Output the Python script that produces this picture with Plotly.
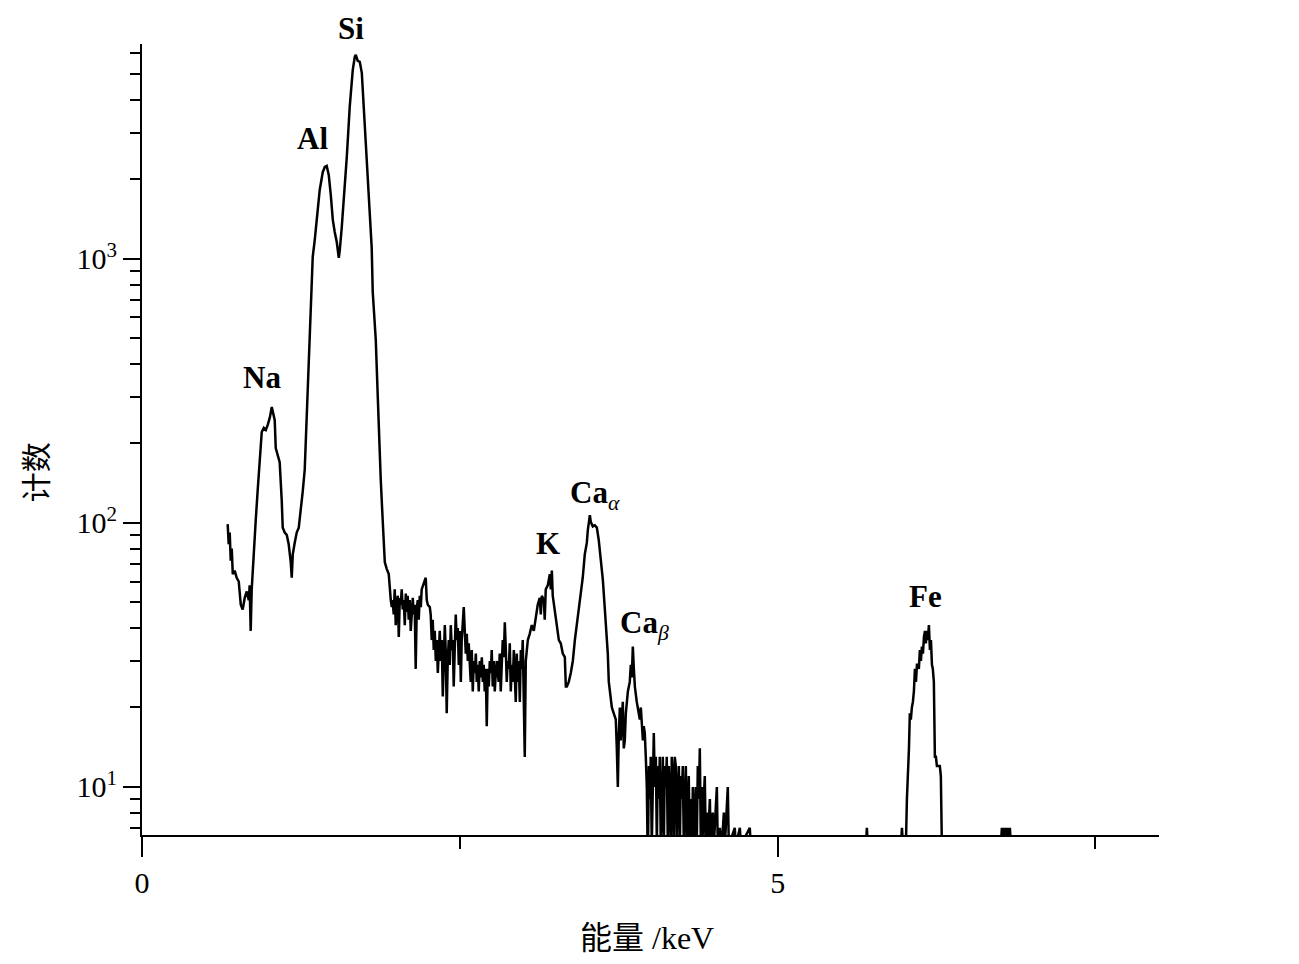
import plotly.graph_objects as go

SERIF = "Liberation Serif, Times New Roman, serif"
TITLE_FONT = "Liberation Serif, Noto Sans CJK SC, serif"

# EDS spectrum: energy (keV) and counts
ENERGY_KEV = [
    # Na / Al / Si region
    0.674, 0.682, 0.690, 0.698, 0.706, 0.714, 0.729, 0.745, 0.761, 0.777,
    0.792, 0.808, 0.824, 0.840, 0.847, 0.855, 0.863, 0.879, 0.895, 0.910,
    0.926, 0.942, 0.958, 0.974, 0.989, 1.005, 1.021, 1.028, 1.044, 1.052,
    1.068, 1.083, 1.099, 1.107, 1.123, 1.139, 1.154, 1.170, 1.178, 1.186,
    1.201, 1.217, 1.233, 1.249, 1.264, 1.280, 1.288, 1.296, 1.304, 1.320,
    1.327, 1.343, 1.359, 1.375, 1.398, 1.422, 1.438, 1.453, 1.469, 1.485,
    1.501, 1.516, 1.532, 1.548, 1.556, 1.571, 1.587, 1.611, 1.634, 1.658,
    1.674, 1.682, 1.697, 1.713, 1.729, 1.752, 1.776, 1.792, 1.807, 1.815,
    1.839, 1.855, 1.862, 1.870, 1.878, 1.894, 1.910, 1.925, 1.941, 1.957,
    1.965,
    # background, K and Ca
    1.972, 1.980, 1.988, 1.996, 2.004, 2.012, 2.020, 2.028, 2.035, 2.043,
    2.051, 2.059, 2.067, 2.075, 2.082, 2.090, 2.098, 2.106, 2.114, 2.122,
    2.130, 2.137, 2.145, 2.153, 2.161, 2.169, 2.177, 2.185, 2.193, 2.200,
    2.216, 2.232, 2.240, 2.248, 2.264, 2.271, 2.279, 2.287, 2.295, 2.303,
    2.311, 2.319, 2.327, 2.334, 2.342, 2.350, 2.358, 2.366, 2.374, 2.382,
    2.389, 2.397, 2.405, 2.413, 2.421, 2.429, 2.437, 2.445, 2.452, 2.460,
    2.468, 2.476, 2.484, 2.492, 2.500, 2.508, 2.515, 2.531, 2.539, 2.547,
    2.555, 2.563, 2.570, 2.578, 2.586, 2.594, 2.602, 2.610, 2.618, 2.626,
    2.633, 2.641, 2.649, 2.657, 2.665, 2.673, 2.681, 2.688, 2.696, 2.704,
    2.712, 2.720, 2.728, 2.736, 2.744, 2.751, 2.759, 2.767, 2.775, 2.783,
    2.791, 2.799, 2.806, 2.814, 2.822, 2.830, 2.838, 2.846, 2.854, 2.862,
    2.869, 2.877, 2.885, 2.893, 2.901, 2.909, 2.917, 2.925, 2.932, 2.940,
    2.948, 2.956, 2.964, 2.972, 2.980, 2.987, 2.995, 3.003, 3.011, 3.019,
    3.027, 3.035, 3.050, 3.066, 3.082, 3.098, 3.113, 3.129, 3.137, 3.145,
    3.161, 3.168, 3.176, 3.192, 3.208, 3.216, 3.224, 3.231, 3.247, 3.263,
    3.279, 3.294, 3.310, 3.326, 3.334, 3.342, 3.357, 3.373, 3.389, 3.405,
    3.420, 3.436, 3.452, 3.467, 3.483, 3.499, 3.507, 3.515, 3.523, 3.530,
    3.546, 3.562, 3.578, 3.593, 3.609, 3.625, 3.641, 3.656, 3.664, 3.672,
    3.680, 3.696, 3.711, 3.727, 3.735, 3.743, 3.751, 3.759, 3.766, 3.774,
    3.782, 3.790, 3.798, 3.806, 3.822, 3.837, 3.845, 3.853, 3.861, 3.869,
    3.877, 3.892, 3.908, 3.916, 3.924, 3.932, 3.940, 3.947, 3.955, 3.963,
    3.971, 3.979,
    # noisy tail above 4 keV
    3.987, 3.995, 4.002, 4.010, 4.018, 4.026, 4.034, 4.042, 4.050, 4.057,
    4.065, 4.073, 4.081, 4.089, 4.097, 4.105, 4.112, 4.120, 4.128, 4.136,
    4.144, 4.152, 4.160, 4.167, 4.175, 4.183, 4.191, 4.199, 4.207, 4.215,
    4.223, 4.231, 4.238, 4.246, 4.254, 4.262, 4.270, 4.278, 4.286, 4.293,
    4.301, 4.309, 4.317, 4.325, 4.333, 4.341, 4.348, 4.356, 4.364, 4.372,
    4.380, 4.388, 4.396, 4.403, 4.411, 4.419, 4.427, 4.435, 4.443, 4.451,
    4.467, 4.474, 4.490, 4.498, 4.514, 4.522, 4.529, 4.545, 4.561, 4.577,
    4.585, 4.600, 4.608, 4.616, 4.663, 4.671, 4.703, 4.711, 4.781, 4.789,
    # isolated counts and Fe
    5.694, 5.702, 5.710, 5.970, 5.978, 5.986,
    6.009, 6.017, 6.025, 6.033, 6.040, 6.048, 6.056, 6.064, 6.072, 6.080,
    6.088, 6.096, 6.103, 6.111, 6.119, 6.127, 6.135, 6.143, 6.151, 6.159,
    6.166, 6.174, 6.182, 6.190, 6.198, 6.206, 6.214, 6.221, 6.229, 6.237,
    6.245, 6.253, 6.261, 6.276, 6.284, 6.292,
    6.756, 6.764, 6.772, 6.780, 6.787, 6.795, 6.803, 6.811, 6.819, 6.827,
    6.835,
]

COUNTS = [
    99, 83, 92, 72, 80, 64, 66, 62, 60, 49,
    47, 52, 55, 51, 58, 39, 56, 79, 103, 133,
    176, 221, 229, 225, 235, 250, 275, 263, 245, 192,
    181, 170, 122, 96, 92, 90, 83, 71, 62, 76,
    84, 92, 96, 117, 131, 159, 206, 268, 333, 493,
    699, 1018, 1181, 1380, 1824, 2134, 2230, 2250, 2080, 1747,
    1406, 1265, 1159, 1009, 1081, 1310, 1671, 2434, 3767, 5200,
    5830, 5932, 5625, 5575, 5070, 3302, 1941, 1406, 1101, 750,
    493, 297, 225, 189, 146, 101, 71, 67, 64, 51,
    48,
    51, 45, 56, 41, 49, 53, 37, 52, 49, 56,
    47, 51, 41, 54, 46, 53, 43, 51, 39, 47,
    52, 45, 49, 28, 47, 51, 43, 53, 48, 56,
    59, 62, 51, 49, 48, 45, 36, 43, 33, 39,
    30, 36, 27, 33, 39, 30, 36, 22, 32, 41,
    33, 19, 30, 36, 29, 41, 33, 36, 24, 31,
    45, 36, 40, 29, 39, 25, 36, 48, 36, 32,
    38, 30, 35, 28, 25, 33, 23, 30, 27, 32,
    25, 29, 23, 30, 26, 31, 25, 29, 23, 28,
    17, 28, 24, 30, 27, 33, 24, 30, 23, 27,
    30, 27, 25, 32, 23, 29, 36, 31, 42, 33,
    25, 30, 28, 35, 23, 29, 25, 33, 28, 21,
    32, 25, 30, 21, 33, 28, 36, 24, 13, 30,
    33, 36, 38, 41, 39, 45, 49, 52, 45, 53,
    51, 43, 56, 58, 64, 56, 66, 53, 47, 41,
    36, 35, 32, 31, 24, 24, 25, 27, 30, 36,
    41, 47, 56, 62, 76, 84, 94, 103, 107, 101,
    97, 98, 96, 86, 72, 61, 47, 36, 32, 25,
    23, 20, 19, 18, 14, 10, 16, 20, 15, 19,
    21, 14, 15, 19, 23, 25, 29, 26, 34, 28,
    24, 21, 19, 18, 20, 16, 15, 17, 16, 13,
    10, 5,
    12, 9, 13, 6, 13, 16, 10, 13, 6, 12,
    9, 13, 6, 11, 13, 6, 12, 10, 13, 6,
    12, 9, 6, 13, 11, 6, 13, 12, 6, 10,
    12, 6, 11, 9, 12, 6, 10, 12, 6, 9,
    11, 6, 9, 6, 10, 8, 6, 10, 6, 12,
    9, 14, 6, 10, 6, 9, 11, 6, 8, 6,
    9, 6, 8, 6, 8, 10, 6, 7, 6, 8,
    6, 9, 10, 6, 7, 6, 7, 6, 7, 6,
    6, 7, 6, 6, 7, 6,
    6, 9, 11, 14, 19, 18, 20, 21, 23, 28,
    25, 29, 29, 28, 33, 30, 34, 32, 37, 39,
    35, 39, 36, 41, 33, 36, 29, 28, 25, 13,
    13, 12, 12, 12, 11, 6,
    6, 7, 6, 7, 6, 7, 6, 7, 6, 7,
    6,
]

assert len(ENERGY_KEV) == len(COUNTS)

Y_TICK_VALUES = [10, 100, 1000]
Y_TICK_TEXT = ["10<sup>1</sup>", "10<sup>2</sup>", "10<sup>3</sup>"]
Y_MINOR_VALUES = [7, 8, 9, 20, 30, 40, 50, 60, 70, 80, 90,
                  200, 300, 400, 500, 600, 700, 800, 900,
                  2000, 3000, 4000, 5000, 6000]
X_TICK_VALUES = [0, 5]
X_TICK_TEXT = ["0", "5"]
X_MINOR_VALUES = [2.5, 7.5]

# peak labels: text, energy, vertical position as a fraction of the plot height
PEAK_LABELS = [
    ("<b>Si</b>", 1.642, 1.019),
    ("<b>Al</b>", 1.343, 0.881),
    ("<b>Na</b>", 0.943, 0.578),
    ("<b>K</b>", 3.195, 0.369),
    ("<b>Ca</b><sub><i>α</i></sub>", 3.560, 0.430),
    ("<b>Ca</b><sub><i>β</i></sub>", 3.950, 0.266),
    ("<b>Fe</b>", 6.166, 0.301),
]

fig = go.Figure()
fig.add_scatter(
    x=ENERGY_KEV,
    y=COUNTS,
    mode="lines",
    line=dict(color="black", width=2.5),
    showlegend=False,
)

axis_common = dict(
    showline=True,
    linecolor="black",
    linewidth=2,
    showgrid=False,
    zeroline=False,
    ticks="outside",
    tickwidth=2,
    tickcolor="black",
    tickfont=dict(family=SERIF, size=30, color="black"),
)

fig.update_xaxes(
    range=[0, 8.0],
    tickmode="array",
    tickvals=X_TICK_VALUES,
    ticktext=X_TICK_TEXT,
    ticklen=20,
    minor=dict(ticks="outside", ticklen=12, tickwidth=2, tickcolor="black",
               tickmode="array", tickvals=X_MINOR_VALUES),
    **axis_common,
)
fig.update_yaxes(
    type="log",
    range=[0.818, 3.814],
    tickmode="array",
    tickvals=Y_TICK_VALUES,
    ticktext=Y_TICK_TEXT,
    ticklen=17,
    minor=dict(ticks="outside", ticklen=10, tickwidth=2, tickcolor="black",
               tickmode="array", tickvals=Y_MINOR_VALUES),
    **axis_common,
)

for text, ex, fy in PEAK_LABELS:
    fig.add_annotation(
        x=ex, y=fy, xref="x", yref="paper", text=text, showarrow=False,
        font=dict(family=SERIF, size=31, color="black"),
        xanchor="center", yanchor="middle", borderpad=0,
    )

fig.add_annotation(
    x=0.497, y=-0.130, xref="paper", yref="paper", text="能量 /keV",
    showarrow=False, font=dict(family=TITLE_FONT, size=32, color="black"),
    xanchor="center", yanchor="middle",
)
fig.add_annotation(
    x=-0.103, y=0.459, xref="paper", yref="paper", text="计数",
    showarrow=False, textangle=-90,
    font=dict(family=TITLE_FONT, size=30, color="black"),
    xanchor="center", yanchor="middle",
)

# the page body adds an 8 px offset, so the figure is 16 px smaller than the window
fig.update_layout(
    width=1283,
    height=948,
    margin=dict(l=134, r=132, t=36, b=121),
    paper_bgcolor="white",
    plot_bgcolor="white",
    font=dict(family=SERIF, size=30, color="black"),
    showlegend=False,
)

fig.write_html("out.html")
